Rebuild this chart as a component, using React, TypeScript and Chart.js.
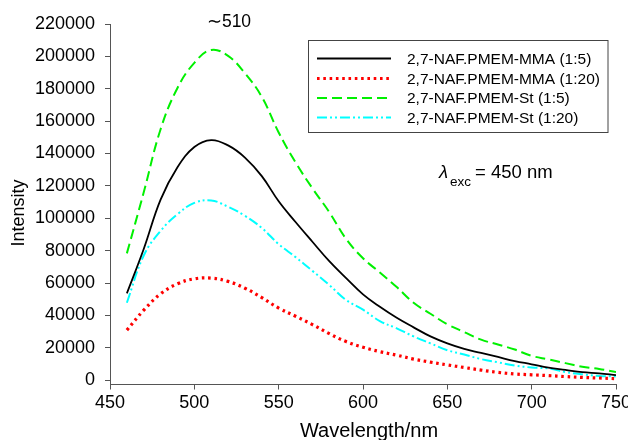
import React, { useEffect, useRef } from 'react';
import { Chart, registerables } from 'chart.js';

Chart.register(...registerables);

// Wavelength (nm)
const wavelengths = [460, 470, 480, 490, 500, 510, 520, 530, 540, 550, 560, 570, 580, 590, 600, 610, 620, 630, 640, 650, 660, 670, 680, 690, 700, 710, 720, 730, 740, 750];

// 2,7-NAF.PMEM-MMA (1:5)
const mma15 = [53600, 81000, 111500, 131500, 144000, 148300, 145000, 137500, 126000, 110500, 97700, 85500, 73500, 63000, 53000, 45300, 38500, 32600, 27000, 22700, 19300, 16800, 14300, 11800, 9800, 7700, 6300, 4900, 4200, 3100];
// 2,7-NAF.PMEM-MMA (1:20)
const mma120 = [30900, 43200, 53300, 59500, 62600, 63000, 61000, 56800, 51000, 44500, 39500, 34300, 28700, 23800, 20300, 17600, 15400, 13000, 11100, 9400, 7800, 6200, 4800, 3800, 3300, 2800, 2200, 1700, 1300, 900];
// 2,7-NAF.PMEM-St (1:5)
const st15 = [78300, 116000, 155000, 180500, 196000, 204000, 200300, 189600, 175000, 153000, 134500, 118500, 103800, 87200, 75300, 66500, 57500, 47800, 41000, 34500, 29700, 25000, 22000, 18900, 15000, 12800, 10500, 8300, 6900, 5000];
// 2,7-NAF.PMEM-St (1:20)
const st120 = [47800, 77000, 92200, 102500, 109500, 111000, 107100, 101500, 94000, 84000, 76000, 67500, 58800, 49500, 43500, 36500, 32000, 27000, 22700, 18500, 15800, 13000, 11000, 9000, 7800, 7200, 5000, 3600, 2600, 2300];

const seriesLabels = ['2,7-NAF.PMEM-MMA (1:5)', '2,7-NAF.PMEM-MMA (1:20)', '2,7-NAF.PMEM-St (1:5)', '2,7-NAF.PMEM-St (1:20)'];
const yTicks = [0, 20000, 40000, 60000, 80000, 100000, 120000, 140000, 160000, 180000, 200000, 220000];
const xTitle = 'Wavelength/nm';
const yTitle = 'Intensity';
const peakNote = '\u223C510';

const FONT = '"Liberation Sans", Arial, Helvetica, sans-serif';
const AXIS_COLOR = '#555';

const toPoints = (arr: number[]) => wavelengths.map((w, i) => ({ x: w, y: arr[i] }));

const overlayPlugin = {
  id: 'overlay',
  afterDraw(chart: any) {
    const ctx: CanvasRenderingContext2D = chart.ctx;
    const area = chart.chartArea;
    ctx.save();

    // Axis titles
    ctx.fillStyle = '#000';
    ctx.font = `20px ${FONT}`;
    ctx.textAlign = 'center';
    ctx.textBaseline = 'middle';
    ctx.fillText(xTitle, (area.left + area.right) / 2 + 6, 431);
    ctx.save();
    ctx.translate(19, 213);
    ctx.rotate(-Math.PI / 2);
    ctx.font = `18px ${FONT}`;
    ctx.fillText(yTitle, 0, 0);
    ctx.restore();

    // Peak annotation
    ctx.font = `17.5px ${FONT}`;
    ctx.textAlign = 'center';
    ctx.fillText(peakNote, 229, 22);

    // Excitation note
    ctx.textAlign = 'left';
    ctx.textBaseline = 'alphabetic';
    ctx.font = `italic 18.5px ${FONT}`;
    ctx.fillText('\u03BB', 439, 178);
    ctx.font = `13.5px ${FONT}`;
    ctx.fillText('exc', 450, 186);
    ctx.font = `18.5px ${FONT}`;
    ctx.fillText('= 450 nm', 475, 178);

    // Legend box
    const bx = 308.5, by = 40.5, bw = 299.5, bh = 92;
    ctx.strokeStyle = '#444';
    ctx.lineWidth = 1;
    ctx.setLineDash([]);
    ctx.strokeRect(bx, by, bw, bh);
    const rows = [58.5, 78.5, 98, 117.5];
    chart.data.datasets.forEach((ds: any, i: number) => {
      const y = rows[i];
      ctx.save();
      ctx.strokeStyle = ds.borderColor;
      ctx.lineWidth = ds.borderWidth;
      ctx.setLineDash(ds.borderDash || []);
      ctx.beginPath();
      ctx.moveTo(317, y);
      ctx.lineTo(391, y);
      ctx.stroke();
      ctx.restore();
      ctx.fillStyle = '#000';
      ctx.font = `15.5px ${FONT}`;
      ctx.textAlign = 'left';
      ctx.textBaseline = 'middle';
      ctx.fillText(ds.label, 407, y + 1);
    });

    ctx.restore();
  },
};

export default function App() {
  const ref = useRef<HTMLCanvasElement>(null);

  useEffect(() => {
    const canvas = ref.current;
    if (!canvas) return;
    const chart = new Chart(canvas, {
      type: 'line',
      data: {
        datasets: [
          {
            label: seriesLabels[0],
            data: toPoints(mma15),
            borderColor: '#000000',
            borderWidth: 1.8,
            borderDash: [],
          },
          {
            label: seriesLabels[1],
            data: toPoints(mma120),
            borderColor: '#ff0000',
            borderWidth: 3.2,
            borderDash: [2.6, 3.7],
          },
          {
            label: seriesLabels[2],
            data: toPoints(st15),
            borderColor: '#00f000',
            borderWidth: 2,
            borderDash: [10, 5],
          },
          {
            label: seriesLabels[3],
            data: toPoints(st120),
            borderColor: '#00ffff',
            borderWidth: 2,
            borderDash: [10, 3, 2, 3, 2, 3],
          },
        ] as any,
      },
      options: {
        responsive: false,
        animation: false,
        events: [],
        elements: {
          point: { radius: 0 },
          line: { tension: 0.4, fill: false },
        },
        layout: { padding: { left: 0, top: 24, right: 12, bottom: 0 } },
        plugins: {
          legend: { display: false },
          tooltip: { enabled: false },
        },
        scales: {
          x: {
            type: 'linear',
            min: 450,
            max: 750,
            ticks: {
              stepSize: 50,
              color: '#000',
              padding: 3,
              font: { family: FONT, size: 18 },
              maxRotation: 0,
            },
            grid: {
              display: true,
              drawOnChartArea: false,
              drawTicks: true,
              tickLength: 5,
              color: AXIS_COLOR,
              tickColor: AXIS_COLOR,
            },
            border: { display: true, color: AXIS_COLOR, width: 1 },
            afterFit: (s: any) => {
              s.height = 55.5;
              s.paddingLeft = 0;
              s.paddingRight = 0;
            },
          },
          y: {
            type: 'linear',
            min: -2700,
            max: 220000,
            afterBuildTicks: (s: any) => {
              s.ticks = yTicks.map((v) => ({ value: v }));
            },
            ticks: {
              color: '#000',
              padding: 10,
              font: { family: FONT, size: 18 },
              callback: (v: any) => String(v),
            },
            grid: {
              display: true,
              drawOnChartArea: false,
              drawTicks: true,
              tickLength: 5,
              color: AXIS_COLOR,
              tickColor: AXIS_COLOR,
            },
            border: { display: true, color: AXIS_COLOR, width: 1 },
            afterFit: (s: any) => {
              s.width = 110;
              s.paddingTop = 0;
              s.paddingBottom = 0;
            },
          },
        },
      } as any,
      plugins: [overlayPlugin],
    });
    return () => chart.destroy();
  }, []);

  return (
    <div style={{ position: 'fixed', left: 0, top: 0, width: 628, height: 440, background: '#fff' }}>
      <canvas ref={ref} width={628} height={440} style={{ display: 'block' }} />
    </div>
  );
}
